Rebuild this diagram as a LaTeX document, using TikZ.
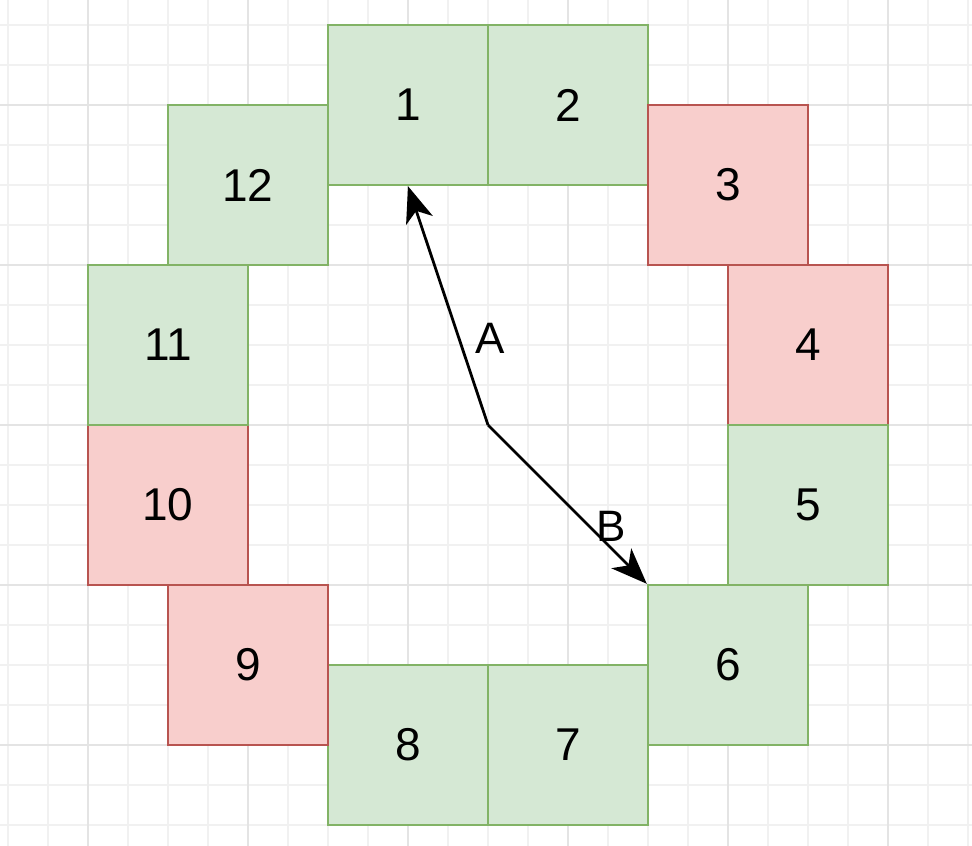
\documentclass[tikz,border=0pt]{standalone}
\usepackage{fontspec}
\setmainfont{Liberation Sans}
\usetikzlibrary{arrows.meta}
\definecolor{gfill}{HTML}{D5E8D4}
\definecolor{gline}{HTML}{82B366}
\definecolor{rfill}{HTML}{F8CECC}
\definecolor{rline}{HTML}{B85450}
\definecolor{gridminor}{HTML}{F1F1F1}
\definecolor{gridmajor}{HTML}{E4E4E4}
\tikzset{
  cell/.style={rectangle, minimum size=160pt, inner sep=0pt, line width=2.4pt,
    font=\fontsize{46pt}{52pt}\selectfont},
  good/.style={cell, draw=gline, fill=gfill},
  bad/.style={cell, draw=rline, fill=rfill},
  hand/.style={draw=black, line width=2.8pt, line join=round,
    -{Stealth[length=36pt, width=28pt, inset=10pt]}},
  lbl/.style={font=\fontsize{44pt}{50pt}\selectfont, inner sep=0pt}
}
\begin{document}
\begin{tikzpicture}[x=1pt,y=-1pt]
\useasboundingbox (0,0) rectangle (972,846);
\fill[white] (0,0) rectangle (972,846);
% grid
\foreach \i in {0,...,24} {
  \draw[gridminor, line width=1.4pt] (8+40*\i,0) -- (8+40*\i,846);
}
\foreach \j in {-1,...,21} {
  \draw[gridminor, line width=1.4pt] (0,25+40*\j) -- (972,25+40*\j);
}
\foreach \i in {0,...,5} {
  \draw[gridmajor, line width=1.4pt] (88+160*\i,0) -- (88+160*\i,846);
}
\foreach \j in {0,...,4} {
  \draw[gridmajor, line width=1.4pt] (0,105+160*\j) -- (972,105+160*\j);
}
% boxes
\node[good] (b1)  at (408,105) {1};
\node[good] (b2)  at (568,105) {2};
\node[bad]  (b3)  at (728,185) {3};
\node[bad]  (b4)  at (808,345) {4};
\node[good] (b5)  at (808,505) {5};
\node[good] (b6)  at (728,665) {6};
\node[good] (b7)  at (568,745) {7};
\node[good] (b8)  at (408,745) {8};
\node[bad]  (b9)  at (248,665) {9};
\node[bad]  (b10) at (168,505) {10};
\node[good] (b11) at (168,345) {11};
\node[good] (b12) at (248,185) {12};
% hands
\coordinate (c) at (488,425);
\draw[hand] (c) -- (b1.south);
\draw[hand] (c) -- (b6.north west);
\node[lbl] (la) at (490,338) {A};
\node[lbl] (lb) at (611,526) {B};
\end{tikzpicture}
\end{document}
